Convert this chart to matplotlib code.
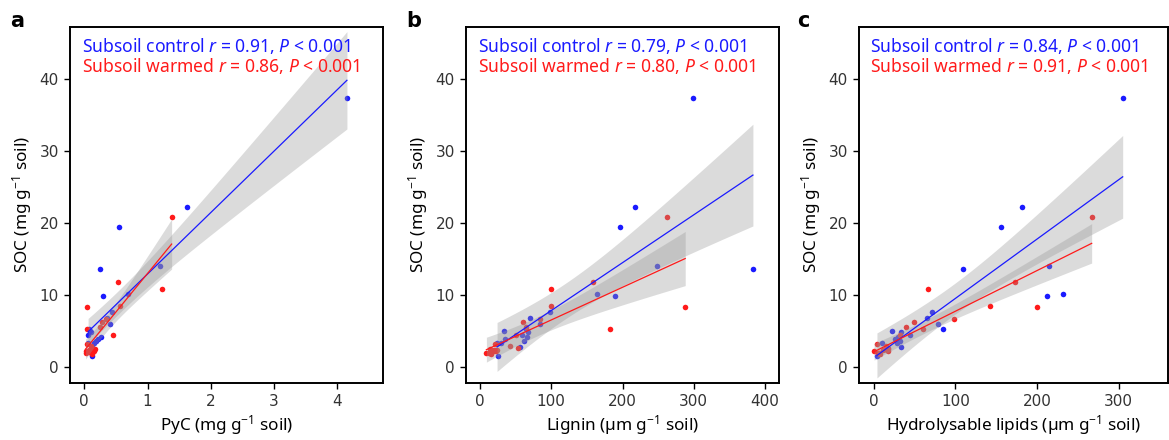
import numpy as np
import matplotlib
matplotlib.use("Agg")
import matplotlib.pyplot as plt

plt.rcParams['font.family'] = ['Noto Sans', 'DejaVu Sans']
plt.rcParams['mathtext.fontset'] = 'custom'
plt.rcParams['mathtext.rm'] = 'Noto Sans'
plt.rcParams['mathtext.it'] = 'Noto Sans:italic'

# SOC (mg g-1 soil), one entry per sample
soc_control = [37.4, 22.2, 19.4, 14.07, 13.66, 10.2, 9.9, 7.6, 6.8, 6.0, 5.3,
               5.0, 4.8, 4.5, 4.2, 3.9, 3.6, 3.4, 3.3, 2.8, 1.5]
soc_warmed = [20.8, 11.85, 10.8, 8.5, 8.3, 6.6, 6.2, 5.6, 5.3, 4.5, 3.2,
              2.9, 2.6, 2.5, 2.3, 2.2, 2.2, 2.0, 2.0, 1.8, 2.4]

# PyC (mg g-1 soil)
pyc_control = [4.15, 1.62, 0.55, 1.19, 0.25, 0.69, 0.30, 0.43, 0.36, 0.41, 0.08,
               0.09, 0.10, 0.06, 0.27, 0.22, 0.18, 0.16, 0.06, 0.12, 0.12]
pyc_warmed = [1.38, 0.53, 1.23, 0.56, 0.05, 0.35, 0.28, 0.25, 0.04, 0.46, 0.05,
              0.10, 0.12, 0.17, 0.13, 0.02, 0.16, 0.10, 0.03, 0.12, 0.08]

# Lignin (um g-1 soil)
lignin_control = [299, 218, 196, 248, 383, 164, 190, 98, 70, 84, 65,
                  34, 68, 59, 66, 35, 62, 29, 24, 56, 26]
lignin_warmed = [262, 159, 99, 99, 288, 84, 60, 64, 182, 50, 21,
                 42, 53, 14, 20, 22, 19, 9, 13, 16, 24]

# Hydrolysable lipids (um g-1 soil)
lipid_control = [305, 182, 156, 215, 109, 232, 212, 71.5, 65, 78.5, 85,
                 22.5, 33, 44, 30, 26, 32, 28, 10, 33, 4]
lipid_warmed = [267, 173, 66, 143, 200, 98, 49, 40, 60.5, 32, 4.5,
                15, 18, 17, 16, 0.5, 17, 7, 5, 8, 12]

panels = [
    ("a", pyc_control, pyc_warmed, "PyC (mg g$^{−1}$ soil)", (-0.226, 4.72), [0, 1, 2, 3, 4],
     ("0.91", "0.86")),
    ("b", lignin_control, lignin_warmed, "Lignin (µm g$^{−1}$ soil)", (-19.6, 419.6), [0, 100, 200, 300, 400],
     ("0.79", "0.80")),
    ("c", lipid_control, lipid_warmed, "Hydrolysable lipids (µm g$^{−1}$ soil)", (-18, 360.5), [0, 100, 200, 300],
     ("0.84", "0.91")),
]

axes_pos = [(70, 313), (466, 313), (859, 309)]
letter_x = [10, 406, 797]

BLUE = "#1a1aff"
RED = "#ff1a1a"


def lm_fit(x, y, t=2.093):
    x = np.asarray(x, float)
    y = np.asarray(y, float)
    n = len(x)
    b, a = np.polyfit(x, y, 1)
    xs = np.linspace(x.min(), x.max(), 100)
    yhat = a + b * xs
    resid = y - (a + b * x)
    s = np.sqrt(np.sum(resid ** 2) / (n - 2))
    sxx = np.sum((x - x.mean()) ** 2)
    se = s * np.sqrt(1.0 / n + (xs - x.mean()) ** 2 / sxx)
    return xs, yhat, yhat - t * se, yhat + t * se


fig = plt.figure(figsize=(11.69, 4.40), dpi=100)

for i, (letter, xc, xw, xlabel, xlim, xticks, rs) in enumerate(panels):
    left, width = axes_pos[i]
    ax = fig.add_axes([left / 1169, (440 - 383.3) / 440, width / 1169, (383.3 - 26.7) / 440])

    ax.scatter(xc, soc_control, s=16, color=BLUE, linewidths=0, zorder=2)
    ax.scatter(xw, soc_warmed, s=16, color=RED, linewidths=0, zorder=2)

    for xv, yv, col in [(xc, soc_control, BLUE), (xw, soc_warmed, RED)]:
        xs, yhat, lo, hi = lm_fit(xv, yv)
        ax.fill_between(xs, lo, hi, color="#999999", alpha=0.35, linewidth=0, zorder=3)
        ax.plot(xs, yhat, color=col, lw=0.9, zorder=4)

    ax.set_xlim(*xlim)
    ax.set_ylim(-2.26, 47.26)
    ax.set_xticks(xticks)
    ax.set_yticks([0, 10, 20, 30, 40])
    ax.tick_params(direction="out", length=4, width=1, labelsize=11,
                   labelcolor="#333333", pad=4)
    for lab in ax.get_xticklabels() + ax.get_yticklabels():
        lab.set_family("DejaVu Sans")
    for sp in ax.spines.values():
        sp.set_linewidth(1.4)
        sp.set_color("black")

    ax.set_xlabel(xlabel, fontsize=12.3, labelpad=3)
    ax.set_ylabel("SOC (mg g$^{−1}$ soil)", fontsize=12.3, labelpad=4)

    ax.text(0.037, 0.975, "Subsoil control $r$ = %s, $P$ < 0.001" % rs[0],
            transform=ax.transAxes, color=BLUE, fontsize=12.6, va="top", ha="left")
    ax.text(0.037, 0.918, "Subsoil warmed $r$ = %s, $P$ < 0.001" % rs[1],
            transform=ax.transAxes, color=RED, fontsize=12.6, va="top", ha="left")

    fig.text(letter_x[i] / 1169, 1 - 11 / 440, letter, fontsize=15, fontweight="bold",
             family="DejaVu Sans", va="top", ha="left")

fig.savefig("out.png", dpi=100)
